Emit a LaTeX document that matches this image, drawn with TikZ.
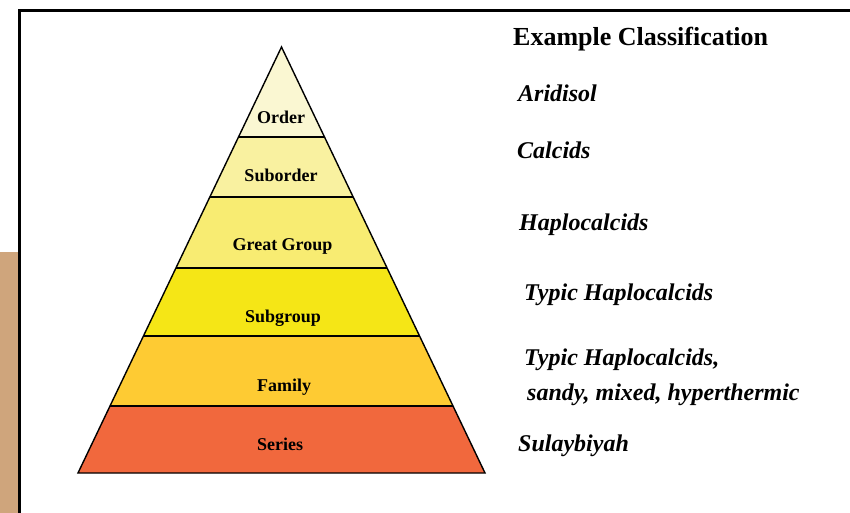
\documentclass[tikz,border=0pt]{standalone}
\usepackage{fontspec}
\setmainfont{Liberation Serif}
\definecolor{cOrder}{HTML}{FAF7D2}
\definecolor{cSub}{HTML}{F9F1A0}
\definecolor{cGreat}{HTML}{F8EC72}
\definecolor{cSubg}{HTML}{F5E616}
\definecolor{cFam}{HTML}{FECB33}
\definecolor{cSer}{HTML}{F1683D}
\definecolor{cTan}{HTML}{CFA57C}
\begin{document}
\begin{tikzpicture}[x=1pt,y=-1pt,
  lvl/.style={anchor=base,font=\fontsize{18}{20}\selectfont\bfseries},
  ex/.style={anchor=base west,font=\fontsize{24}{26}\selectfont\bfseries\itshape},
  band/.style={draw=black,line width=1.4pt,line join=miter}]
\useasboundingbox (0,0) rectangle (850,513);
\fill[white] (0,0) rectangle (850,513);
% tan strip and frame
\fill[cTan] (0,252) rectangle (18,513);
\draw[line width=3pt] (19.5,513) -- (19.5,10.5) -- (850,10.5);
% pyramid bands
\coordinate (apex) at (281.5,47);
\coordinate (l1) at (238.5,137);   \coordinate (r1) at (324.5,137);
\coordinate (l2) at (209.84,197);  \coordinate (r2) at (353.16,197);
\coordinate (l3) at (175.93,268);  \coordinate (r3) at (387.07,268);
\coordinate (l4) at (143.44,336);  \coordinate (r4) at (419.56,336);
\coordinate (l5) at (110.01,406);  \coordinate (r5) at (452.99,406);
\coordinate (l6) at (78,473);      \coordinate (r6) at (485,473);
\fill[cOrder] (apex) -- (r1) -- (l1) -- cycle;
\fill[cSub] (l1) -- (r1) -- (r2) -- (l2) -- cycle;
\fill[cGreat] (l2) -- (r2) -- (r3) -- (l3) -- cycle;
\fill[cSubg] (l3) -- (r3) -- (r4) -- (l4) -- cycle;
\fill[cFam] (l4) -- (r4) -- (r5) -- (l5) -- cycle;
\fill[cSer] (l5) -- (r5) -- (r6) -- (l6) -- cycle;
\draw[band] (apex) -- (r6) -- (l6) -- cycle;
\foreach \i in {1,...,5} \draw[band] (l\i) -- (r\i);
% level labels
\node[lvl] (order) at (281,124) {Order};
\node[lvl] (suborder) at (281,181.7) {Suborder};
\node[lvl] (great) at (282.5,250) {Great Group};
\node[lvl] (subgroup) at (283,322.7) {Subgroup};
\node[lvl] (family) at (284,391) {Family};
\node[lvl] (series) at (280,450.7) {Series};
% examples
\node[anchor=base west,font=\fontsize{26}{28}\selectfont\bfseries,inner sep=0pt] (head) at (513,45.7) {Example Classification};
\node[ex,inner sep=0pt] (e1) at (518,102) {Aridisol};
\node[ex,inner sep=0pt] (e2) at (517,158) {Calcids};
\node[ex,inner sep=0pt] (e3) at (519,230.7) {Haplocalcids};
\node[ex,inner sep=0pt] (e4) at (524,300.7) {Typic Haplocalcids};
\node[ex,inner sep=0pt] (e5) at (524,365.7) {Typic Haplocalcids,};
\node[ex,inner sep=0pt] (e5b) at (527,400) {sandy, mixed, hyperthermic};
\node[ex,inner sep=0pt] (e6) at (518,451.7) {Sulaybiyah};
\end{tikzpicture}
\end{document}
